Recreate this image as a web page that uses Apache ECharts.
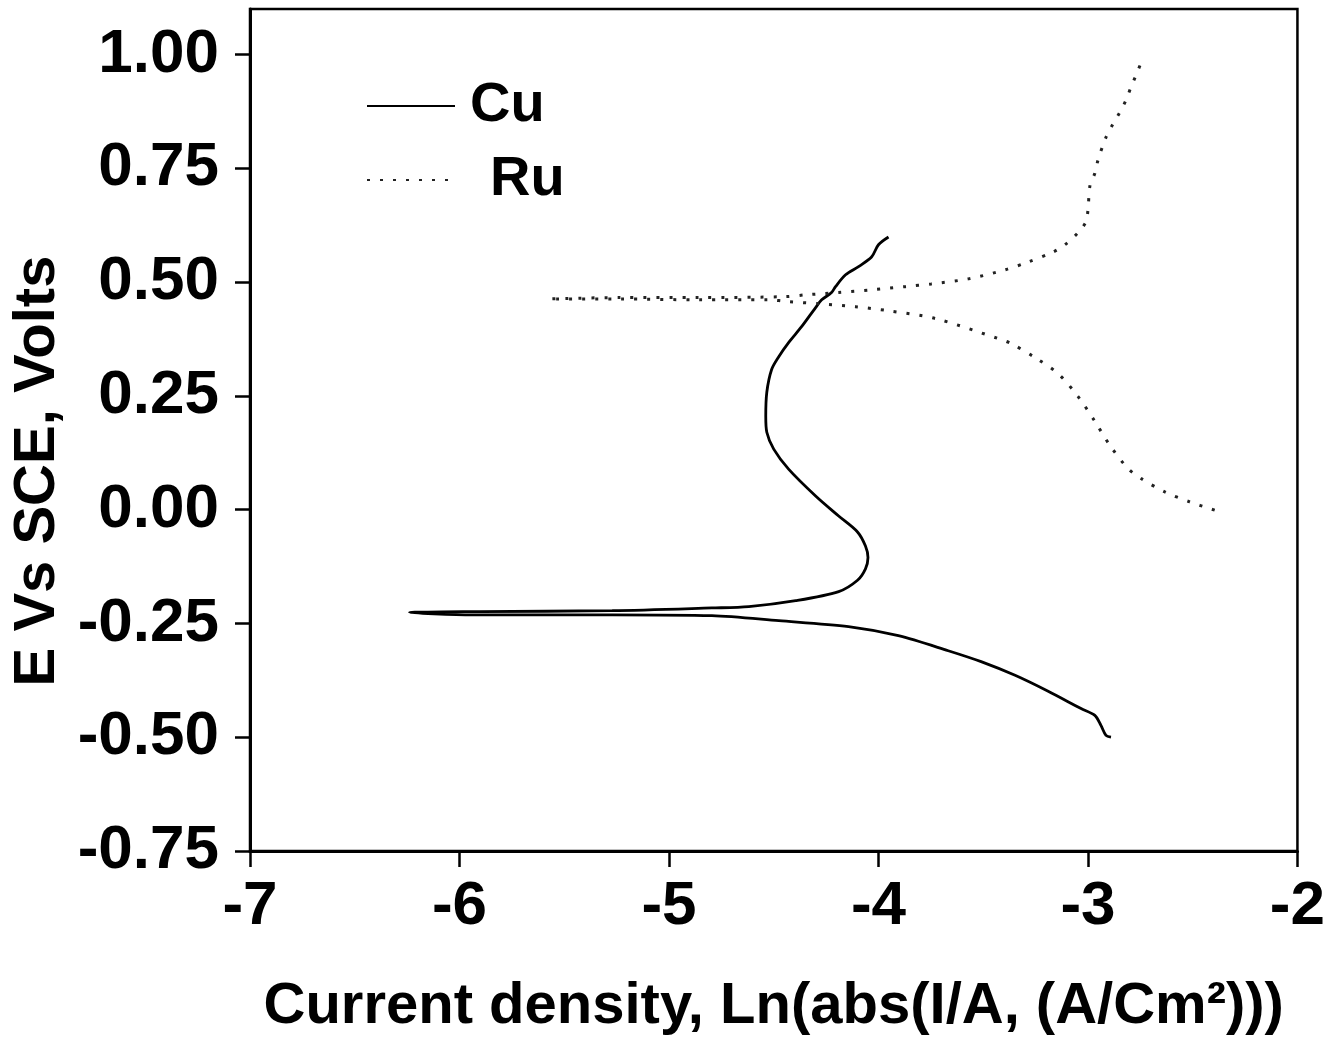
<!DOCTYPE html>
<html>
<head>
<meta charset="utf-8">
<script src="https://cdn.jsdelivr.net/npm/echarts@6/dist/echarts.min.js"></script>
<style>
  html, body { margin: 0; padding: 0; background: #fff; }
  #main { width: 1328px; height: 1041px; }
</style>
</head>
<body>
<div id="main"></div>
<script>
// Cu scan: cathodic end (-0.5 V) -> tip -> anodic loop up to 0.6 V
const cuX = [-2.890, -2.914, -2.938, -2.967, -3.033, -3.190, -3.348, -3.510, -3.667, -3.905, -4.143, -4.476, -4.795, -5.271, -5.938, -6.238,
  -5.905, -5.271, -4.795, -4.619, -4.395, -4.190, -4.100, -4.062, -4.050, -4.062, -4.100, -4.190, -4.300, -4.429, -4.500, -4.533, -4.538,
  -4.533, -4.510, -4.476, -4.429, -4.367, -4.300, -4.271, -4.224, -4.205, -4.157, -4.095, -4.033, -4.000, -3.952]
const cuY = [-0.500, -0.496, -0.474, -0.452, -0.437, -0.399, -0.364, -0.334, -0.310, -0.277, -0.257, -0.244, -0.233, -0.231, -0.231, -0.226,
  -0.224, -0.222, -0.216, -0.213, -0.200, -0.180, -0.155, -0.130, -0.105, -0.080, -0.049, -0.014, 0.030, 0.089, 0.133, 0.170, 0.205,
  0.258, 0.308, 0.336, 0.367, 0.402, 0.444, 0.461, 0.477, 0.490, 0.516, 0.534, 0.555, 0.582, 0.599]

// Ru scan: 0 V end -> tip near 0.46 V -> up to ~1 V
const ruX = [-2.395, -2.514, -2.633, -2.748, -2.810, -2.895, -2.967, -3.048, -3.143, -3.252, -3.367, -3.429, -3.729, -3.952, -4.110, -4.271,
  -4.429, -4.524, -4.857, -5.238, -5.571,
  -5.238, -4.857, -4.443, -4.348, -4.190, -4.033, -3.871, -3.748, -3.571, -3.395, -3.286, -3.167, -3.110, -3.048, -3.010,
  -3.000, -2.990, -2.967, -2.952, -2.914, -2.881, -2.848, -2.819, -2.795, -2.771, -2.748]
const ruY = [-0.001, 0.017, 0.039, 0.069, 0.091, 0.141, 0.194, 0.249, 0.299, 0.334, 0.365, 0.376, 0.420, 0.437, 0.446, 0.452,
  0.457, 0.461, 0.461, 0.463, 0.463,
  0.466, 0.466, 0.468, 0.472, 0.477, 0.483, 0.490, 0.496, 0.507, 0.527, 0.544, 0.566, 0.582, 0.608, 0.632,
  0.658, 0.713, 0.739, 0.768, 0.818, 0.847, 0.873, 0.899, 0.928, 0.954, 0.980]

const yTicks = [-0.75, -0.5, -0.25, 0, 0.25, 0.5, 0.75, 1.0]

const font = 'Liberation Sans, Arial, sans-serif'

const chart = echarts.init(document.getElementById('main'))

const option = {
  animation: false,
  backgroundColor: '#fff',
  grid: {
    left: 250,
    right: 28,
    top: 9,
    bottom: 187,
    show: true,
    borderColor: '#000',
    borderWidth: 2.5
  },
  legend: {
    orient: 'vertical',
    left: 361,
    top: 73,
    itemWidth: 88,
    itemHeight: 14,
    itemGap: 18,
    data: ['Cu', 'Ru'],
    itemStyle: { color: 'transparent', borderColor: 'transparent', borderWidth: 0 },
    formatter: name => name === 'Ru' ? '{r|Ru}' : '{c|Cu}',
    textStyle: {
      fontFamily: font,
      fontWeight: 'bold',
      fontSize: 56,
      lineHeight: 56,
      color: '#000',
      rich: {
        c: { fontFamily: font, fontWeight: 'bold', fontSize: 56, lineHeight: 56, color: '#000', padding: [0, 0, 0, 10] },
        r: { fontFamily: font, fontWeight: 'bold', fontSize: 56, lineHeight: 56, color: '#000', padding: [0, 0, 0, 30] }
      }
    }
  },
  xAxis: {
    type: 'value',
    min: -7,
    max: -2,
    interval: 1,
    splitLine: { show: false },
    axisLine: { onZero: false, lineStyle: { color: '#000', width: 3 } },
    axisTick: { inside: false, length: 16, lineStyle: { color: '#000', width: 2.5 } },
    axisLabel: { margin: 25, color: '#000', fontFamily: font, fontWeight: 'bold', fontSize: 62 },
    name: 'Current density, Ln(abs(I/A, (A/Cm²)))',
    nameLocation: 'middle',
    nameGap: 127,
    nameTextStyle: { color: '#000', fontFamily: font, fontWeight: 'bold', fontSize: 58 }
  },
  yAxis: {
    type: 'value',
    min: -0.75,
    max: 1.1,
    interval: 0.25,
    splitLine: { show: false },
    axisLine: { onZero: false, lineStyle: { color: '#000', width: 3 } },
    axisTick: { inside: false, length: 15, customValues: yTicks, lineStyle: { color: '#000', width: 2.5 } },
    axisLabel: {
      margin: 31,
      customValues: yTicks,
      color: '#000', fontFamily: font, fontWeight: 'bold', fontSize: 62,
      formatter: v => v.toFixed(2)
    },
    name: 'E Vs SCE, Volts',
    nameLocation: 'middle',
    nameGap: 183,
    nameTextStyle: { color: '#000', fontFamily: font, fontWeight: 'bold', fontSize: 58, padding: [0, 82, 0, 0] }
  },
  series: [
    {
      name: 'Cu',
      type: 'line',
      showSymbol: false,
      symbol: 'none',
      smooth: 0.3,
      lineStyle: { color: '#000', width: 2.8 },
      itemStyle: { color: '#000' },
      data: cuX.map((x, i) => [x, cuY[i]])
    },
    {
      name: 'Ru',
      type: 'line',
      showSymbol: false,
      symbol: 'none',
      smooth: 0.3,
      lineStyle: { color: '#222', width: 3, type: [3, 10] },
      itemStyle: { color: '#222' },
      data: ruX.map((x, i) => [x, ruY[i]])
    }
  ]
}

chart.setOption(option)
</script>
</body>
</html>
